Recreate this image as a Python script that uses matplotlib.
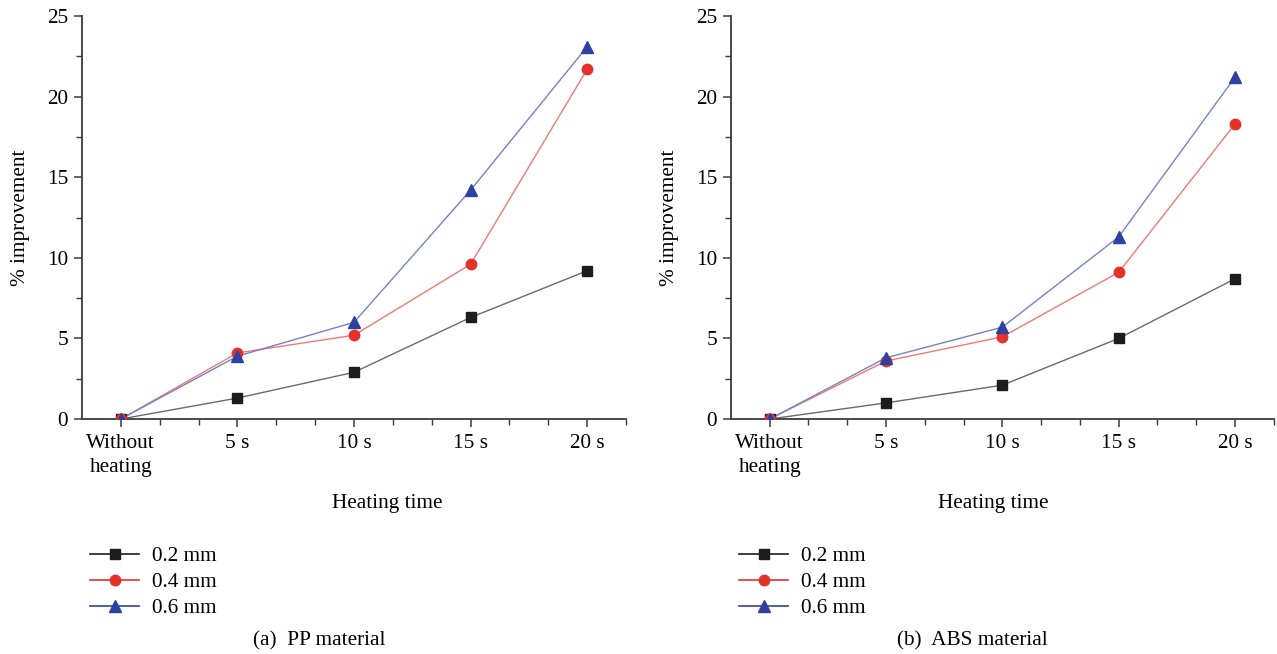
import numpy as np
import matplotlib
matplotlib.use("Agg")
import matplotlib.pyplot as plt
from matplotlib.ticker import FixedLocator, MultipleLocator

plt.rcParams["font.family"] = ["Liberation Serif", "DejaVu Serif"]
FS = 15.3
plt.rcParams["font.size"] = FS

# heating time categories
categories = ["Without\nheating", "5 s", "10 s", "15 s", "20 s"]
series_labels = ["0.2 mm", "0.4 mm", "0.6 mm"]

# % improvement, PP material
pp_02 = [0.0, 1.3, 2.9, 6.3, 9.2]
pp_04 = [0.0, 4.1, 5.2, 9.6, 21.7]
pp_06 = [0.0, 3.9, 6.0, 14.2, 23.1]

# % improvement, ABS material
abs_02 = [0.0, 1.0, 2.1, 5.0, 8.7]
abs_04 = [0.0, 3.6, 5.1, 9.1, 18.3]
abs_06 = [0.0, 3.8, 5.7, 11.3, 21.2]

styles = [
    dict(marker="s", color="#1c1c1c", line="#6a6a6a", ms=6.5),
    dict(marker="o", color="#e5312b", line="#ec7b76", ms=7.5),
    dict(marker="^", color="#2f41a0", line="#7683c2", ms=8),
]

AXIS_COLOR = "#3a3a3a"


def draw_panel(ax, series, caption, cap_x, xlabel_x):
    x = np.arange(len(categories))
    handles = []
    for vals, st, lab in zip(series, styles, series_labels):
        ax.plot(x, vals, color=st["line"], lw=1.0, zorder=2)
        ax.plot(x, vals, ls="none", marker=st["marker"], ms=st["ms"],
                mfc=st["color"], mec=st["color"], zorder=3)
        # legend handle in full colour
        h, = ax.plot([], [], color=st["color"], lw=1.2, marker=st["marker"],
                     ms=st["ms"], mfc=st["color"], mec=st["color"], label=lab)
        handles.append(h)

    ax.set_xlim(-1 / 3, len(categories) - 1 + 1 / 3)
    ax.set_ylim(0, 25)
    ax.set_xticks(x)
    ax.set_xticklabels(categories, linespacing=1.35)
    minor_x = [v / 3 for v in range(0, 14) if v % 3 != 0]
    ax.xaxis.set_minor_locator(FixedLocator(minor_x))
    ax.yaxis.set_major_locator(MultipleLocator(5))
    ax.yaxis.set_minor_locator(MultipleLocator(2.5))

    for side in ("top", "right"):
        ax.spines[side].set_visible(False)
    for side in ("left", "bottom"):
        ax.spines[side].set_color(AXIS_COLOR)
        ax.spines[side].set_linewidth(1.3)

    ax.tick_params(which="major", direction="out", length=6, width=1.1,
                   color=AXIS_COLOR, labelsize=FS, pad=5)
    ax.tick_params(which="minor", direction="out", length=4, width=1.0,
                   color=AXIS_COLOR)
    ax.tick_params(axis="y", which="major", pad=4)

    ax.set_xlabel("Heating time", fontsize=FS, labelpad=12)
    ax.xaxis.label.set_x(xlabel_x)
    ax.set_ylabel("% improvement", fontsize=FS, labelpad=12)

    ax.legend(handles=handles, loc="upper left",
              bbox_to_anchor=(ax.get_position().x0 + 0.0065, 0.165),
              bbox_transform=ax.figure.transFigure, frameon=False,
              fontsize=FS, handlelength=2.3, handletextpad=0.6,
              labelspacing=0.3, borderpad=0, borderaxespad=0)

    ax.figure.text(cap_x, 0.0195, caption, ha="center", va="center",
                   fontsize=FS)


fig = plt.figure(figsize=(12.77, 6.54), dpi=100)
ax_pp = fig.add_axes([0.0642, 0.3593, 0.426, 0.616])
ax_abs = fig.add_axes([0.5724, 0.3593, 0.425, 0.616])

draw_panel(ax_pp, [pp_02, pp_04, pp_06], "(a)  PP material", 0.2502, 0.561)
draw_panel(ax_abs, [abs_02, abs_04, abs_06], "(b)  ABS material", 0.7616, 0.4825)

fig.savefig("out.png", dpi=100)
